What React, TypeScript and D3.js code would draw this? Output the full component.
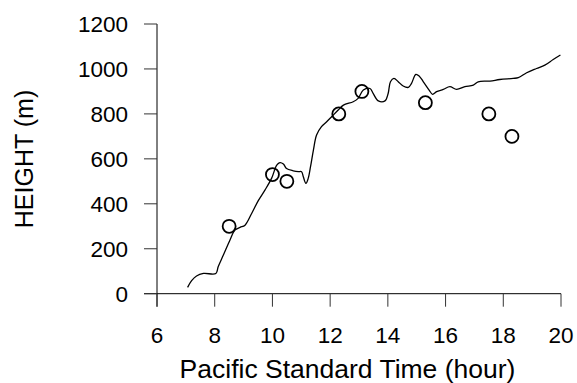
import React from 'react';
import * as d3 from 'd3';

// measured balloon / lidar mixed layer height
const lineHours = [7.06, 7.2, 7.37, 7.61, 8.04, 8.12, 8.3, 8.53, 8.7, 8.88, 9.05, 9.28, 9.51, 9.74, 9.97, 10.15, 10.26, 10.38, 10.49, 10.72, 10.9, 11.01, 11.07, 11.16, 11.24, 11.32, 11.42, 11.53, 11.7, 11.88, 12.05, 12.28, 12.46, 12.8, 12.97, 13.15, 13.38, 13.49, 13.67, 13.9, 14.01, 14.09, 14.21, 14.36, 14.53, 14.71, 14.82, 14.97, 15.09, 15.23, 15.43, 15.55, 15.69, 15.92, 16.15, 16.38, 16.67, 16.96, 17.13, 17.54, 17.88, 18.34, 18.52, 18.81, 19.15, 19.44, 19.73, 19.98];
const lineHeights = [28, 58, 79, 90, 90, 120, 172, 239, 283, 295, 305, 357, 414, 461, 513, 572, 583, 577, 557, 547, 543, 543, 520, 491, 513, 565, 639, 706, 743, 765, 787, 817, 839, 854, 869, 906, 913, 891, 858, 858, 891, 943, 958, 943, 924, 918, 936, 976, 968, 943, 906, 887, 899, 909, 921, 909, 921, 928, 943, 946, 953, 958, 961, 983, 1002, 1017, 1042, 1062];

const pointHours = [8.5, 10.0, 10.5, 12.3, 13.1, 15.3, 17.5, 18.3];
const pointHeights = [300, 530, 500, 800, 900, 850, 800, 700];

const xTicks = [6, 8, 10, 12, 14, 16, 18, 20];
const yTicks = [0, 200, 400, 600, 800, 1000, 1200];

const W = 577;
const H = 383;
const font = 'Arial, "Liberation Sans", sans-serif';

export default function App() {
  const x = d3.scaleLinear().domain([6, 20]).range([157, 561]);
  const y = d3.scaleLinear().domain([0, 1200]).range([293.7, 24]);
  const tickLen = 13;

  const pts: [number, number][] = lineHours.map((h, i) => [h, lineHeights[i]]);
  const line = d3
    .line<[number, number]>()
    .x(d => x(d[0]))
    .y(d => y(d[1]))
    .curve(d3.curveCatmullRom);

  return (
    <svg width={W} height={H} style={{ position: 'absolute', left: 0, top: 0, background: '#fff' }}>
      {/* axes */}
      <line x1={x(6)} x2={x(6)} y1={y(1200)} y2={y(0) + tickLen} stroke="#000" strokeWidth={1} />
      <line x1={x(6) - tickLen} x2={x(20)} y1={y(0)} y2={y(0)} stroke="#000" strokeWidth={1} />
      {yTicks.map(t => (
        <g key={'y' + t}>
          <line x1={x(6) - tickLen} x2={x(6)} y1={y(t)} y2={y(t)} stroke="#333" strokeWidth={1} />
          <text x={x(6) - 29} y={y(t)} dy="0.36em" textAnchor="end" fontFamily={font} fontSize={22.5} fill="#000">
            {t}
          </text>
        </g>
      ))}
      {xTicks.map(t => (
        <g key={'x' + t}>
          <line x1={x(t)} x2={x(t)} y1={y(0)} y2={y(0) + tickLen} stroke="#333" strokeWidth={1} />
          <text x={x(t)} y={343} textAnchor="middle" fontFamily={font} fontSize={22.5} fill="#000">
            {t}
          </text>
        </g>
      ))}
      <text x={347.5} y={378} textAnchor="middle" fontFamily={font} fontSize={26.5} fill="#000">
        Pacific Standard Time (hour)
      </text>
      <text
        transform={`translate(33,159) rotate(-90)`}
        textAnchor="middle"
        fontFamily={font}
        fontSize={25}
        fill="#000"
      >
        HEIGHT (m)
      </text>

      <path d={line(pts) ?? ''} fill="none" stroke="#000" strokeWidth={1.3} />
      {pointHours.map((h, i) => (
        <circle key={i} cx={x(h)} cy={y(pointHeights[i])} r={6.5} fill="none" stroke="#000" strokeWidth={1.8} />
      ))}
    </svg>
  );
}
